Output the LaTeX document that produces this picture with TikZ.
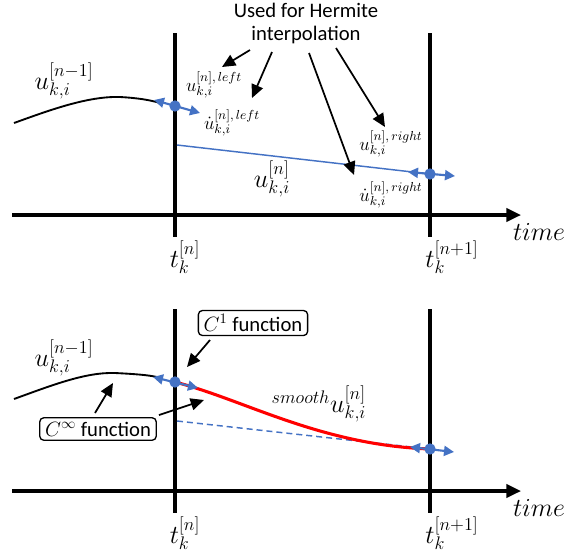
\RequirePackage{fix-cm}
\documentclass[tikz,border=0pt]{standalone}
\usepackage[no-math]{fontspec}
\setmainfont{Carlito}
\usepackage{tikz}
\usetikzlibrary{arrows.meta}
\definecolor{hermblue}{HTML}{4472C4}
\definecolor{hermred}{HTML}{FF0000}
\tikzset{
  axis/.style={-{Triangle[length=11pt,width=10pt]},line width=2.3pt,draw=black},
  tline/.style={line width=2.3pt,draw=black},
  prev/.style={line width=1.4pt,draw=black},
  pointer/.style={-{Triangle[length=10pt,width=9pt]},line width=1.3pt,draw=black},
  slope/.style={{Triangle[length=7.5pt,width=7.5pt]}-{Triangle[length=7.5pt,width=7.5pt]},line width=1.6pt,draw=hermblue},
  knot/.style={circle,fill=hermblue,inner sep=0pt,minimum size=8.5pt},
  linear/.style={line width=1.1pt,draw=hermblue},
  lineardash/.style={line width=1.1pt,draw=hermblue,dash pattern=on 4.5pt off 3pt},
  smoothed/.style={line width=2.3pt,draw=hermred},
  lab/.style={inner sep=0pt,font=\fontsize{19.5}{22}\selectfont},
  sublab/.style={inner sep=0pt,font=\fontsize{14}{17}\selectfont},
  note/.style={inner sep=0pt,align=center,font=\fontsize{15.5}{17.25}\selectfont},
  tag/.style={rectangle,rounded corners=3pt,draw=black,line width=1pt,fill=white,inner xsep=4pt,inner ysep=3pt,font=\fontsize{15.5}{18}\selectfont}
}
\begin{document}
\begin{tikzpicture}[x=0.75pt,y=-0.75pt]
\useasboundingbox (0,0) rectangle (571,551);
% upper panel
\coordinate (o1) at (12,215);
\coordinate (e1) at (521,215);
\draw[axis] (o1) -- (e1);
\draw[tline] (175,33) -- (175,237);
\draw[tline] (430,33) -- (430,237);
\node[lab] (tn1) at (185,257) {$t_k^{[n]}$};
\node[lab] (tm1) at (452,257) {$t_k^{[n+1]}$};
\node[lab] (time1) at (539,232) {$time$};
\draw[prev] (14,123) .. controls (50,110) and (88,96) .. (120,97) .. controls (138,98) and (150,100) .. (160,103);
\draw[linear] (177,145) -- (430,174);
\coordinate (l1) at (154,100);
\coordinate (r1) at (200,113);
\draw[slope] (l1) -- (r1);
\node[knot] (k1) at (175,106) {};
\coordinate (l2) at (408,172);
\coordinate (r2) at (455,176);
\draw[slope] (l2) -- (r2);
\node[knot] (k2) at (430,174) {};
\node[lab] (uprev1) at (64,81) {$u_{k,i}^{[n-1]}$};
\node[lab] (ucur1) at (272,179) {$u_{k,i}^{[n]}$};
\node[sublab] (uleft) at (214,85) {$u_{k,i}^{[n],\,left}$};
\node[sublab] (dleft) at (232,123) {$\dot u_{k,i}^{[n],\,left}$};
\node[sublab] (uright) at (391,144) {$u_{k,i}^{[n],\,right}$};
\node[sublab] (dright) at (391,195) {$\dot u_{k,i}^{[n],\,right}$};
\node[note] (herm) at (306,23) {Used for Hermite\\interpolation};
\coordinate (h1) at (250,50);
\coordinate (h2) at (272,52);
\coordinate (h3) at (309,53);
\coordinate (h4) at (336,48);
\coordinate (g1) at (222,67);
\coordinate (g2) at (252,98);
\coordinate (g3) at (354,175);
\coordinate (g4) at (385,127);
\draw[pointer] (h1) -- (g1);
\draw[pointer] (h2) -- (g2);
\draw[pointer] (h3) -- (g3);
\draw[pointer] (h4) -- (g4);
% lower panel
\coordinate (o2) at (12,491);
\coordinate (e2) at (521,491);
\draw[axis] (o2) -- (e2);
\draw[tline] (175,309) -- (175,513);
\draw[tline] (430,309) -- (430,513);
\node[lab] (tn2) at (185,533) {$t_k^{[n]}$};
\node[lab] (tm2) at (452,533) {$t_k^{[n+1]}$};
\node[lab] (time2) at (539,508) {$time$};
\draw[prev] (14,399) .. controls (50,386) and (85,372) .. (115,373) .. controls (135,374) and (148,375) .. (157,377);
\draw[lineardash] (177,421) -- (430,449);
\draw[smoothed] (175,382) .. controls (245,400) and (320,445) .. (430,449);
\coordinate (l3) at (153,377);
\coordinate (r3) at (198,388);
\draw[slope] (l3) -- (r3);
\node[knot] (k3) at (175,382) {};
\coordinate (l4) at (410,447);
\coordinate (r4) at (454,452);
\draw[slope] (l4) -- (r4);
\node[knot] (k4) at (430,449) {};
\node[lab] (uprev2) at (64,358) {$u_{k,i}^{[n-1]}$};
\node[lab] (usmooth) at (319,404) {${}^{smooth}u_{k,i}^{[n]}$};
\node[tag] (c1) at (253,323) {$C^1$ function};
\node[tag] (cinf) at (98,429) {$C^\infty$ function};
\coordinate (p1) at (210,340);
\coordinate (q1) at (187,367);
\coordinate (p2) at (95,413);
\coordinate (q2) at (113,383);
\coordinate (p3) at (159,415);
\coordinate (q3) at (204,400);
\draw[pointer] (p1) -- (q1);
\draw[pointer] (p2) -- (q2);
\draw[pointer] (p3) -- (q3);
\end{tikzpicture}
\end{document}
